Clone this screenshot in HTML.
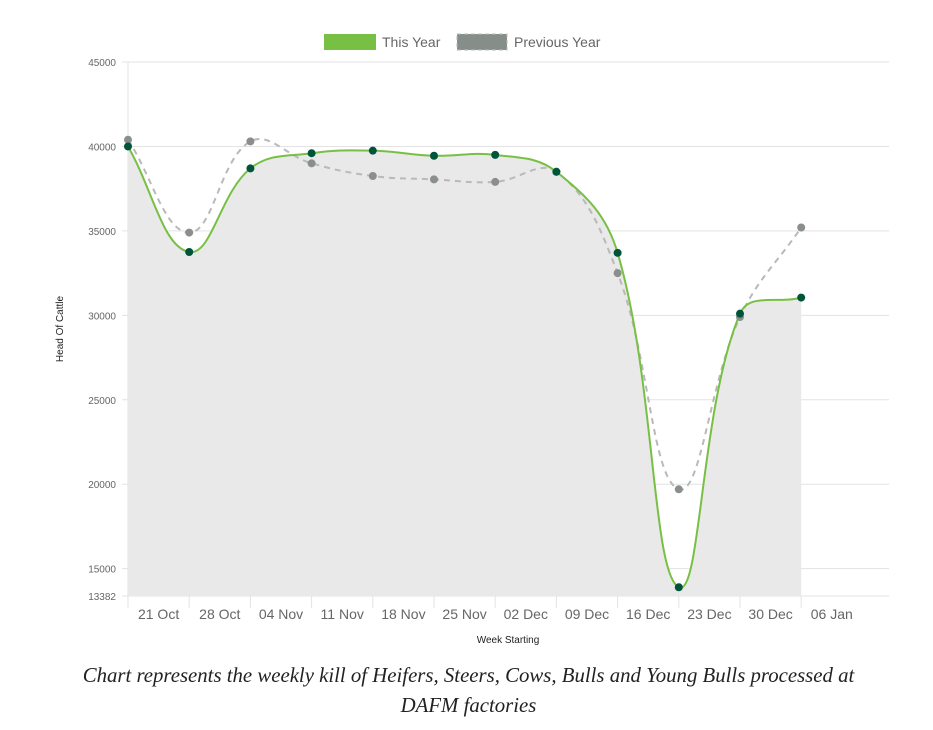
<!DOCTYPE html>
<html><head><meta charset="utf-8"><style>
body{margin:0;background:#fff;width:933px;height:730px;overflow:hidden}
svg{position:absolute;left:0;top:0}
.cap{position:absolute;left:0;top:661px;width:937px;text-align:center;font-family:"Liberation Serif",serif;font-style:italic;font-size:20.8px;line-height:30px;color:#222}
</style></head><body>
<svg id="c" width="933" height="660"></svg>
<div class="cap">Chart represents the weekly kill of Heifers, Steers, Cows, Bulls and Young Bulls processed at<br>DAFM factories</div>
<script>
const categories=["21 Oct","28 Oct","04 Nov","11 Nov","18 Nov","25 Nov","02 Dec","09 Dec","16 Dec","23 Dec","30 Dec","06 Jan"];
const thisYear=[40000,33750,38700,39600,39750,39450,39500,38500,33700,13900,30100,31050];
const prevYear=[40400,34900,40300,39000,38250,38050,37900,38500,32500,19700,29900,35200];
const yTicks=[45000,40000,35000,30000,25000,20000,15000,13382];
const NS="http://www.w3.org/2000/svg",svg=document.getElementById('c');
const L=128,R=889,step=61.2,yMin=13382,yMax=45000,yTop=62,yBot=596;
const X=i=>L+step*i, Y=v=>yBot-(v-yMin)/(yMax-yMin)*(yBot-yTop);
function el(t,a,p){const e=document.createElementNS(NS,t);for(const k in a)e.setAttribute(k,a[k]);(p||svg).appendChild(e);return e;}
function path(vals){const p=vals.map((v,i)=>[X(i),Y(v)]);let d='M'+p[0];const t=0.4,cps=[];
for(let i=0;i<p.length;i++){const a=p[i-1]||p[i],b=p[i],c=p[i+1]||p[i];const d01=Math.hypot(b[0]-a[0],b[1]-a[1]),d12=Math.hypot(c[0]-b[0],c[1]-b[1]);let fa=d01/(d01+d12)||0,fb=d12/(d01+d12)||0;fa*=t;fb*=t;cps.push([[b[0]-fa*(c[0]-a[0]),b[1]-fa*(c[1]-a[1])],[b[0]+fb*(c[0]-a[0]),b[1]+fb*(c[1]-a[1])]]);}
for(let i=1;i<p.length;i++)d+=' C'+cps[i-1][1]+' '+cps[i][0]+' '+p[i];return d;}
yTicks.forEach(v=>{const g=el('line',{x1:L-6,x2:R,y1:Y(v),y2:Y(v),stroke:'#e3e3e3'});

const t=el('text',{x:L-12,y:Y(v)+4,'text-anchor':'end','font-size':'10','font-family':'Liberation Sans, sans-serif',fill:'#666'});t.textContent=v;
});
el('line',{x1:L,x2:L,y1:yTop,y2:608,stroke:'#e3e3e3'});
for(let i=1;i<thisYear.length;i++){const g=el('line',{x1:X(i),x2:X(i),y1:yBot,y2:608,stroke:'#e3e3e3'});}
const d1=path(thisYear);
const area=el('path',{d:d1+' L'+X(thisYear.length-1)+','+yBot+' L'+X(0)+','+yBot+' Z',fill:'#e9e9e9'});

const pl=el('path',{d:path(prevYear),fill:'none',stroke:'#b9b9b9','stroke-width':2,'stroke-dasharray':'6,5'});

const tl=el('path',{d:d1,fill:'none',stroke:'#77c043','stroke-width':2});

prevYear.forEach((v,i)=>{const c=el('circle',{cx:X(i),cy:Y(v),r:4,fill:'#8a8f8c'});});
thisYear.forEach((v,i)=>{const c=el('circle',{cx:X(i),cy:Y(v),r:4,fill:'#00543a'});});
categories.forEach((c,i)=>{const t=el('text',{x:X(i+0.5),y:619,'text-anchor':'middle','font-size':'14','font-family':'Liberation Sans, sans-serif',fill:'#666'});t.textContent=c;
});
el('text',{x:508,y:643,'text-anchor':'middle','font-size':'10','font-family':'Liberation Sans, sans-serif',fill:'#222',}).textContent='Week Starting';
el('text',{x:63,y:329,'text-anchor':'middle','font-size':'10','font-family':'Liberation Sans, sans-serif',fill:'#222',transform:'rotate(-90 63 329)',}).textContent='Head Of Cattle';
el('rect',{x:324,y:34,width:52,height:16,fill:'#77c043',});
el('text',{x:382,y:47,'font-size':'14','font-family':'Liberation Sans, sans-serif',fill:'#666',}).textContent='This Year';
el('rect',{x:457,y:34,width:50,height:16,fill:'#868e8a',stroke:'#bbb','stroke-dasharray':'4,3',});
el('text',{x:514,y:47,'font-size':'14','font-family':'Liberation Sans, sans-serif',fill:'#666',}).textContent='Previous Year';
</script>
</body></html>
